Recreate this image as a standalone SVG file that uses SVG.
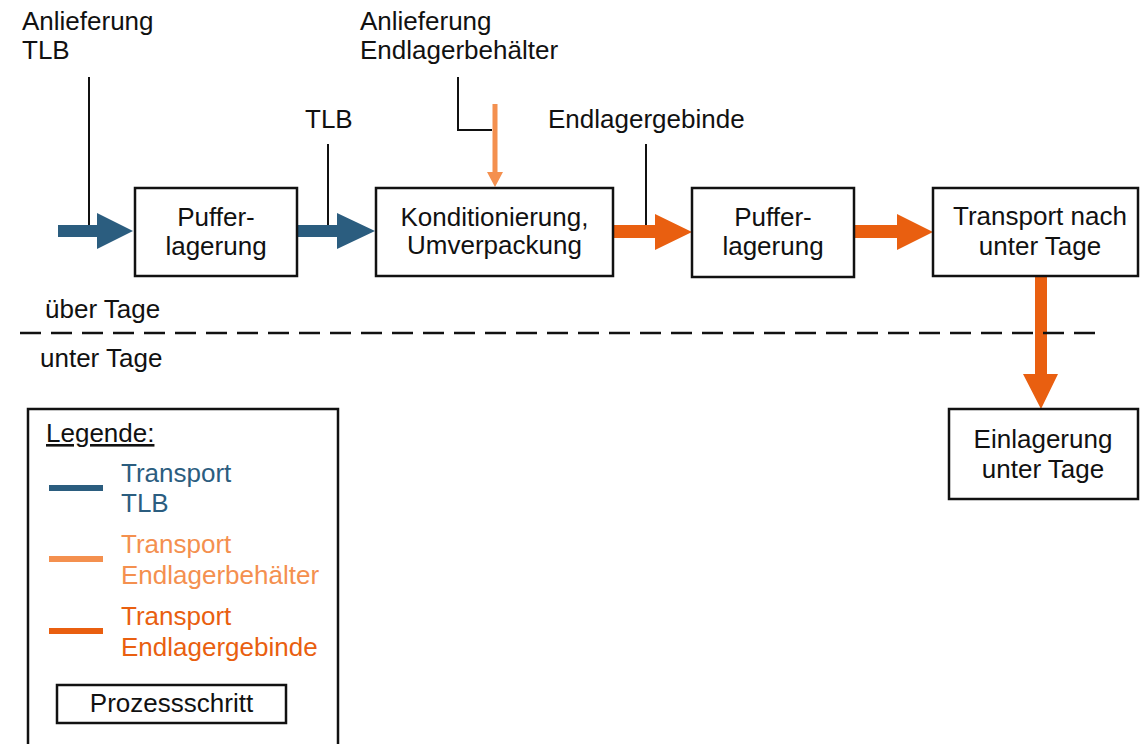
<svg xmlns="http://www.w3.org/2000/svg" width="1140" height="744" viewBox="0 0 1140 744">
<style>
text{font-family:"Liberation Sans",Arial,sans-serif;font-size:26px;fill:#111}
.c{text-anchor:middle}
.box{fill:#fff;stroke:#111;stroke-width:2.5}
.ln{fill:none;stroke:#111;stroke-width:2}
.blue{fill:#2B5D7F}
.lor{fill:#F4904F}
.dor{fill:#E95F10}
</style>
<rect width="1140" height="744" fill="#fff"/>
<g id="connectors">
  <polyline class="ln" points="89,77 89,231"/>
  <polyline class="ln" points="328,144 328,231"/>
  <polyline class="ln" points="458,77 458,130 492,130"/>
  <polyline class="ln" points="646,144 646,231"/>
  <polygon class="blue" points="58,225 97,225 97,213 133,231 97,249 97,237 58,237"/>
  <polygon class="blue" points="298,225 337,225 337,213 375,231 337,249 337,237 298,237"/>
  <rect class="lor" x="492.5" y="104" width="5" height="69"/>
  <polygon class="lor" points="487,172 503,172 495,187"/>
  <polygon class="dor" points="614,225 655,225 655,214 692,232 655,250 655,238 614,238"/>
  <polygon class="dor" points="855,225 897,225 897,214 933,232 897,250 897,238 855,238"/>
  <polygon class="dor" points="1035,277 1047,277 1047,374 1058,374 1041,409 1023,374 1035,374"/>
</g>
<line x1="20" y1="333" x2="1100" y2="333" stroke="#111" stroke-width="2.5" stroke-dasharray="21,10"/>
<g id="labels">
  <text x="22" y="30">Anlieferung</text>
  <text x="22" y="59">TLB</text>
  <text x="305" y="128">TLB</text>
  <text x="360" y="30">Anlieferung</text>
  <text x="360" y="59">Endlagerbehälter</text>
  <text x="548" y="128">Endlagergebinde</text>
  <text x="45" y="318">über Tage</text>
  <text x="40" y="367">unter Tage</text>
</g>
<g id="node-puffer1">
  <rect class="box" x="135" y="188" width="162" height="88"/>
  <text class="c" x="216" y="226">Puffer-</text>
  <text class="c" x="216" y="255">lagerung</text>
</g>
<g id="node-konditionierung">
  <rect class="box" x="376" y="188" width="237" height="88"/>
  <text class="c" x="494.5" y="226" textLength="188" lengthAdjust="spacingAndGlyphs">Konditionierung,</text>
  <text class="c" x="494.5" y="254">Umverpackung</text>
</g>
<g id="node-puffer2">
  <rect class="box" x="692" y="188" width="162" height="89"/>
  <text class="c" x="773" y="226">Puffer-</text>
  <text class="c" x="773" y="255">lagerung</text>
</g>
<g id="node-transport">
  <rect class="box" x="933" y="188" width="205" height="88"/>
  <text class="c" x="1040" y="225">Transport nach</text>
  <text class="c" x="1040" y="255">unter Tage</text>
</g>
<g id="node-einlagerung">
  <rect class="box" x="949" y="409" width="189" height="90"/>
  <text class="c" x="1043" y="448">Einlagerung</text>
  <text class="c" x="1043" y="478">unter Tage</text>
</g>
<g id="legend">
  <rect class="box" x="28" y="409" width="310" height="345"/>
  <text x="46" y="442" text-decoration="underline">Legende:</text>
  <rect class="blue" x="49" y="485" width="54" height="6"/>
  <text x="121" y="482" style="fill:#2B5D7F">Transport</text>
  <text x="121" y="512" style="fill:#2B5D7F">TLB</text>
  <rect class="lor" x="49" y="556" width="54" height="6"/>
  <text x="121" y="553" style="fill:#F4904F">Transport</text>
  <text x="121" y="584" style="fill:#F4904F">Endlagerbehälter</text>
  <rect class="dor" x="49" y="628" width="54" height="6"/>
  <text x="121" y="625" style="fill:#E95F10">Transport</text>
  <text x="121" y="656" style="fill:#E95F10">Endlagergebinde</text>
  <rect class="box" x="57" y="685" width="229" height="38"/>
  <text class="c" x="171.5" y="712">Prozessschritt</text>
</g>
</svg>
